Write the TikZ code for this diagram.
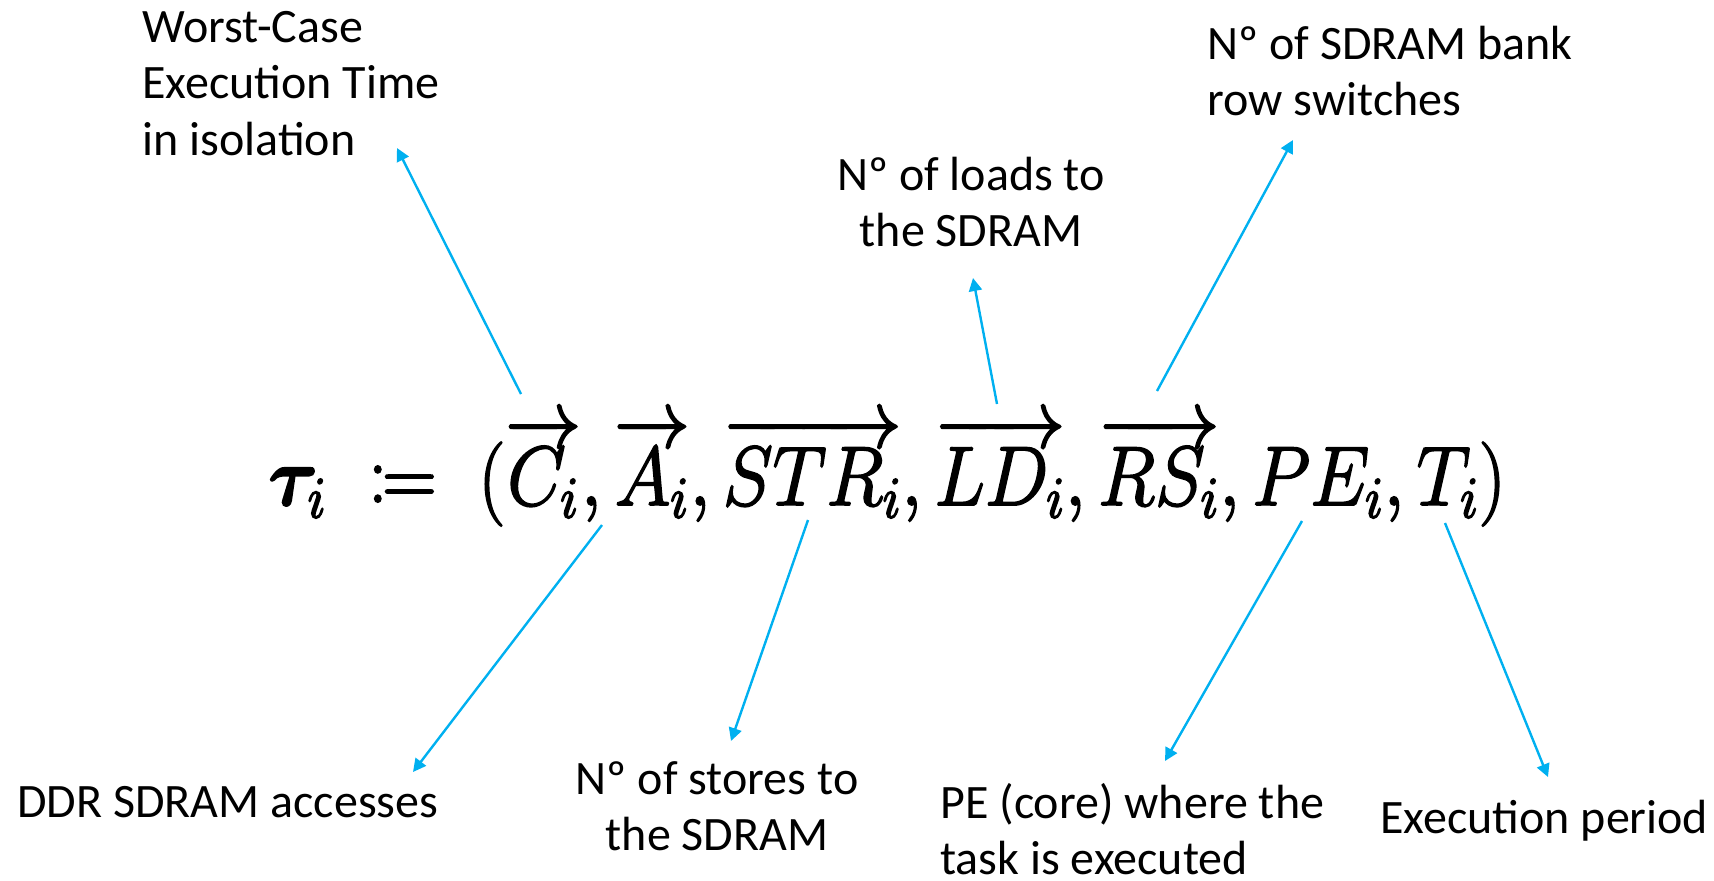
\RequirePackage{fix-cm}
\documentclass[tikz,border=0pt]{standalone}
\usepackage{amsmath,bm,mathtools,graphicx}
\usepackage{fontspec}
\setmainfont{Carlito}
\usetikzlibrary{arrows.meta}
\definecolor{arrowblue}{HTML}{00B0F0}
\newcommand\heavyon{\special{pdf:literal direct 2 Tr 0.9 w}}
\newcommand\heavyoff{\special{pdf:literal direct 0 Tr}}
\begin{document}
\begin{tikzpicture}[x=0.5pt,y=-0.5pt,
  lbl/.style={inner sep=0pt, anchor=base west, font=\fontsize{24}{28.3}\selectfont},
  clbl/.style={inner sep=0pt, anchor=base, font=\fontsize{24}{28.3}\selectfont},
  pointer/.style={draw=arrowblue, line width=1.2pt, -{Triangle[length=6.5pt,width=6.5pt]}}]
\useasboundingbox (0,0) rectangle (1714,880);

% formula
\node[anchor=base west, inner sep=0pt, font=\fontsize{42}{50}\selectfont] (eq) at (268,505)
  {\heavyon\scalebox{0.9}[1]{$\bm{\tau}_i \mkern5mu\coloneqq\mkern5mu (\overrightarrow{C_i}, \overrightarrow{A_i}, \overrightarrow{STR_i}, \overrightarrow{LD_i}, \overrightarrow{RS_i}, PE_i, T_i)$}\heavyoff};

% labels
\node[lbl] (wcet) at (142,42) {\begin{tabular}[t]{@{}l@{}}Worst-Case\\Execution Time\\in isolation\end{tabular}};
\node[clbl] (ld) at (971,190) {\begin{tabular}[t]{@{}c@{}}Nº of loads to\\the SDRAM\end{tabular}};
\node[lbl] (rs) at (1207,59) {\begin{tabular}[t]{@{}l@{}}Nº of SDRAM bank\\row switches\end{tabular}};
\node[lbl] (acc) at (17,817) {DDR SDRAM accesses};
\node[clbl] (str) at (717,794) {\begin{tabular}[t]{@{}c@{}}Nº of stores to\\the SDRAM\end{tabular}};
\node[lbl] (pe) at (940,818) {\begin{tabular}[t]{@{}l@{}}PE (core) where the\\task is executed\end{tabular}};
\node[lbl] (per) at (1380,833) {Execution period};

% connector end points
\coordinate (s1) at (521,394); \coordinate (e1) at (397,148);
\coordinate (s2) at (997,404); \coordinate (e2) at (973,278);
\coordinate (s3) at (1157,391); \coordinate (e3) at (1293,140);
\coordinate (s4) at (602,525); \coordinate (e4) at (413,772);
\coordinate (s5) at (808,520); \coordinate (e5) at (731,741);
\coordinate (s6) at (1302,521); \coordinate (e6) at (1165,761);
\coordinate (s7) at (1445,523); \coordinate (e7) at (1548,777);

\draw[pointer] (s1) -- (e1);
\draw[pointer] (s2) -- (e2);
\draw[pointer] (s3) -- (e3);
\draw[pointer] (s4) -- (e4);
\draw[pointer] (s5) -- (e5);
\draw[pointer] (s6) -- (e6);
\draw[pointer] (s7) -- (e7);
\end{tikzpicture}
\end{document}
